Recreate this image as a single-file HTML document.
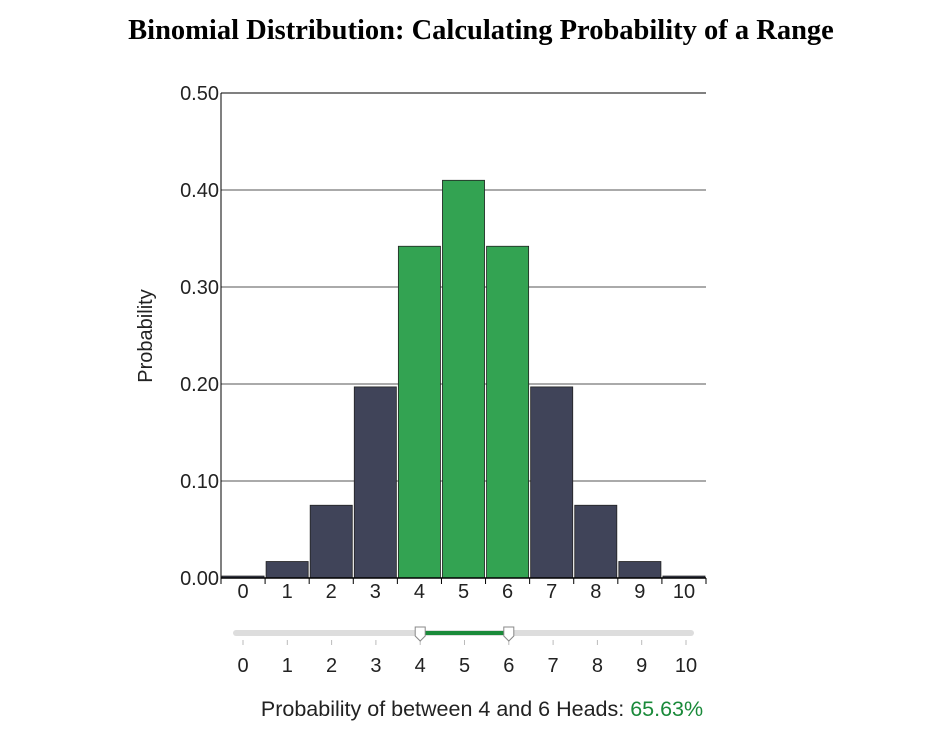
<!DOCTYPE html>
<html><head><meta charset="utf-8"><style>
body{margin:0;background:#fff;width:925px;height:744px;overflow:hidden;font-family:"Liberation Sans",sans-serif}
</style></head><body>
<svg id="chart" width="925" height="744">
<text x="481" y="39" text-anchor="middle" font-family="Liberation Serif" font-weight="bold" font-size="28.5" fill="#000">Binomial Distribution: Calculating Probability of a Range</text>
<text transform="translate(152,336) rotate(-90)" text-anchor="middle" font-size="20" fill="#222">Probability</text>
<g id="grid"></g><g id="bars"></g><g id="axes"></g><g id="slider"></g>
<text x="482" y="716" text-anchor="middle" font-size="21.5" fill="#222">Probability of between 4 and 6 Heads: <tspan fill="#1a8a3a">65.63%</tspan></text>
</svg>
<script>
const categories=[0,1,2,3,4,5,6,7,8,9,10];
const probs=[0.002,0.017,0.075,0.197,0.342,0.41,0.342,0.197,0.075,0.017,0.002];
const yTicks=[0,0.1,0.2,0.3,0.4,0.5];
const yTickLabels=["0.00","0.10","0.20","0.30","0.40","0.50"];
const rangeLow=4, rangeHigh=6;
const NS="http://www.w3.org/2000/svg";
const X0=221,X1=706,Y0=578,Y1=93;
const bw=(X1-X0)/categories.length;
const ys=v=>Y0-(v/0.5)*(Y0-Y1);
const xs=i=>X0+i*bw;
function mk(tag,attrs,parent){const e=document.createElementNS(NS,tag);for(const k in attrs)e.setAttribute(k,attrs[k]);document.getElementById(parent).appendChild(e);return e;}
yTicks.forEach((t,i)=>{
 const l=mk('line',{x1:X0,x2:X1,y1:ys(t),y2:ys(t),stroke:i==yTicks.length-1?'#000':'#555','stroke-width':1},'grid');
 
 
 const tx=mk('text',{x:X0-2,y:ys(t)+7,'text-anchor':'end','font-size':20,fill:'#222'},'grid');
 tx.textContent=yTickLabels[i];
 
 
});
categories.forEach((c,i)=>{
 const inR=c>=rangeLow&&c<=rangeHigh;
 const r=mk('rect',{x:xs(i)+1,y:ys(probs[i]),width:bw-2,height:Y0-ys(probs[i]),fill:inR?'#33a352':'#404459',stroke:'#222','stroke-width':0.8},'bars');
 
 
 const t=mk('text',{x:xs(i)+bw/2,y:598,'text-anchor':'middle','font-size':20,fill:'#222'},'axes');
 t.textContent=c;
 
 
});
for(let i=0;i<=categories.length;i++){
 const tk=mk('line',{x1:xs(i),x2:xs(i),y1:Y0,y2:Y0+6,stroke:'#000'},'axes');
 
 
}
let ax=mk('line',{x1:X0,x2:X0,y1:Y1,y2:Y0,stroke:'#000'},'axes');


ax=mk('line',{x1:X0,x2:X1,y1:Y0,y2:Y0,stroke:'#000','stroke-width':1.5},'axes');


const S0=243,S1=686,SY=633;
const ss=v=>S0+(v/10)*(S1-S0);
let tr=mk('line',{x1:236,x2:691,y1:SY,y2:SY,stroke:'#ddd','stroke-width':6,'stroke-linecap':'round'},'slider');


tr=mk('line',{x1:ss(rangeLow),x2:ss(rangeHigh),y1:SY,y2:SY,stroke:'#1a8a3a','stroke-width':4},'slider');


categories.forEach(c=>{
 const tk=mk('line',{x1:ss(c),x2:ss(c),y1:640,y2:645,stroke:'#bbb'},'slider');
 
 
 const t=mk('text',{x:ss(c),y:672,'text-anchor':'middle','font-size':20,fill:'#222'},'slider');
 t.textContent=c;
 
 
});
[rangeLow,rangeHigh].forEach((v,k)=>{
 const x=ss(v);
 const h=mk('path',{d:`M${x-5},${SY-6} L${x+5},${SY-6} L${x+5},${SY+3} L${x},${SY+8} L${x-5},${SY+3} Z`,fill:'#fff',stroke:'#888','stroke-width':1},'slider');
 
 
});
</script>
</body></html>
